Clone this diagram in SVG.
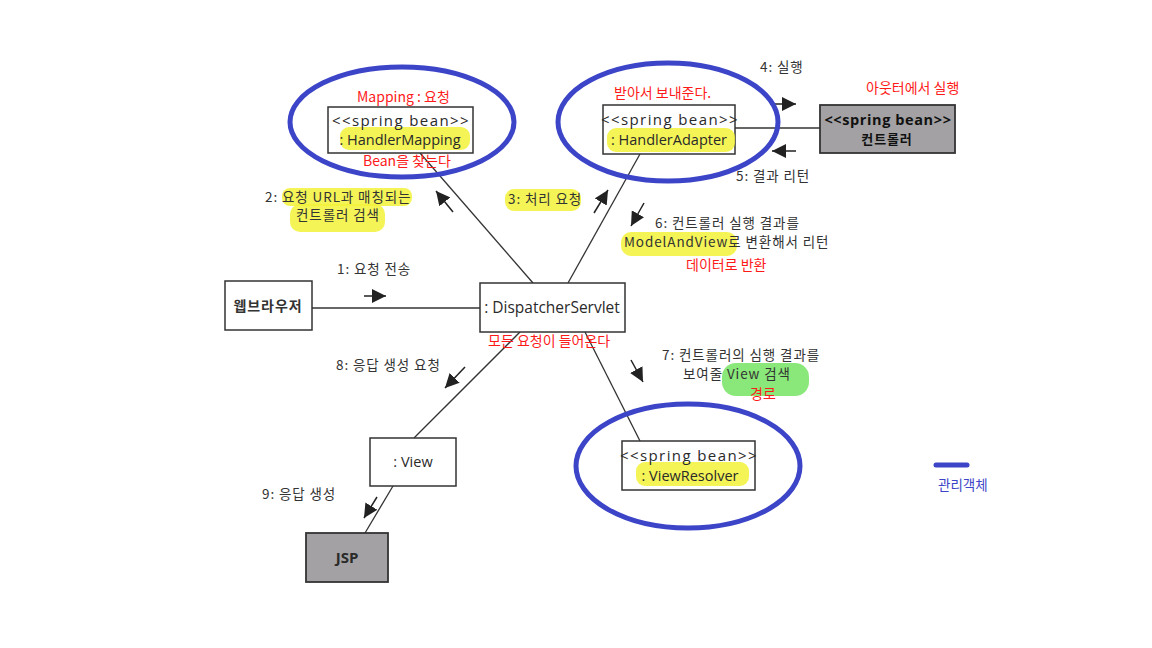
<svg xmlns="http://www.w3.org/2000/svg" width="1152" height="648" viewBox="0 0 1152 648">
<style>
.box{fill:#fff;stroke:#333;stroke-width:1.5}
.gbox{fill:#a3a1a3;stroke:#333;stroke-width:1.8}
.t{font-family:"Open Sans","Noto Sans","Noto Sans CJK KR",sans-serif;fill:#2a2a2a}
.sb{font-family:"Open Sans","Noto Sans",sans-serif;fill:#2a2a2a;font-size:15px;letter-spacing:1.4px}
.k{font-family:"Noto Sans CJK KR",sans-serif;fill:#333;font-size:13.5px;letter-spacing:0.9px}
.red{font-family:"Noto Sans CJK KR",sans-serif;fill:#ff1a1a;font-size:14px}
.ell{fill:none;stroke:#3c44c8;stroke-width:5}
.conn{stroke:#333;stroke-width:1.3;fill:none}
.arr{stroke:#222;stroke-width:1.5;fill:none;marker-end:url(#ah)}
.hl{fill:#f2f23a;opacity:0.85}
</style>
<defs>
<marker id="ah" viewBox="0 0 10 10" refX="10" refY="5" markerWidth="14" markerHeight="14" markerUnits="userSpaceOnUse" orient="auto">
<path d="M0,0 L10,5 L0,10 z" fill="#222"/>
</marker>
</defs>
<rect width="1152" height="648" fill="#fff"/>

<g id="highlights">
<rect class="hl" x="282" y="188" width="130" height="18" rx="8"/>
<rect class="hl" x="290" y="204" width="95" height="28" rx="10"/>
<rect class="hl" x="505" y="189" width="76" height="22" rx="9"/>
<rect class="hl" x="621" y="232" width="116" height="24" rx="10"/>
<rect x="722" y="363" width="87" height="33" rx="14" fill="#7ce66a" opacity="0.9"/>
</g>

<g id="connectors">
<line class="conn" x1="312" y1="308" x2="480" y2="308"/>
<line class="conn" x1="533" y1="283" x2="420" y2="153"/>
<line class="conn" x1="568" y1="283" x2="640" y2="154"/>
<line class="conn" x1="735" y1="128" x2="820" y2="128"/>
<line class="conn" x1="520" y1="332" x2="414" y2="438"/>
<line class="conn" x1="585" y1="332" x2="640" y2="441"/>
<line class="conn" x1="393" y1="486" x2="365" y2="533"/>
<line class="arr" x1="364" y1="296" x2="386" y2="296"/>
<line class="arr" x1="453" y1="212" x2="436" y2="191"/>
<line class="arr" x1="594" y1="213" x2="608" y2="190"/>
<line class="arr" x1="644" y1="203" x2="631" y2="226"/>
<line class="arr" x1="770" y1="104" x2="796" y2="104"/>
<line class="arr" x1="796" y1="151" x2="772" y2="151"/>
<line class="arr" x1="465" y1="367" x2="445" y2="388"/>
<line class="arr" x1="631" y1="360" x2="643" y2="382"/>
<line class="arr" x1="377" y1="497" x2="364" y2="518"/>
</g>

<g id="handlerMapping">
<rect class="box" x="328" y="107" width="145" height="46"/>
<rect class="hl" x="340" y="127" width="130" height="23" rx="9"/>
<text class="sb" x="401" y="126" text-anchor="middle">&lt;&lt;spring bean&gt;&gt;</text>
<text class="t" x="400" y="145" font-size="14.5" text-anchor="middle">: HandlerMapping</text>
</g>

<g id="handlerAdapter">
<rect class="box" x="603" y="105" width="132" height="49"/>
<rect class="hl" x="607" y="128" width="128" height="24" rx="9"/>
<text class="sb" x="670" y="125" text-anchor="middle">&lt;&lt;spring bean&gt;&gt;</text>
<text class="t" x="669" y="145" font-size="14.5" text-anchor="middle">: HandlerAdapter</text>
</g>

<g id="controller">
<rect class="gbox" x="820" y="105" width="135" height="48"/>
<text class="sb" x="888" y="125" text-anchor="middle" style="letter-spacing:0.6px;fill:#111;font-weight:bold;font-size:14.5px">&lt;&lt;spring bean&gt;&gt;</text>
<text class="k" x="887" y="144" text-anchor="middle" style="fill:#111;font-size:13px;font-weight:bold">컨트롤러</text>
</g>

<g id="browser">
<rect class="box" x="225" y="281" width="87" height="49"/>
<text class="k" x="268" y="311" text-anchor="middle" style="font-weight:bold;font-size:14px">웹브라우저</text>
</g>

<g id="dispatcherServlet">
<rect class="box" x="480" y="283" width="145" height="49"/>
<text class="t" x="552" y="313" font-size="15.5" text-anchor="middle">: DispatcherServlet</text>
</g>

<g id="view">
<rect class="box" x="370" y="438" width="86" height="48"/>
<text class="t" x="413" y="467" font-size="14.5" text-anchor="middle">: View</text>
</g>

<g id="jsp">
<rect class="gbox" x="306" y="533" width="82" height="49"/>
<text class="t" x="347" y="563" font-size="15" text-anchor="middle" font-weight="bold" fill="#111">JSP</text>
</g>

<g id="viewResolver">
<rect class="box" x="622" y="441" width="133" height="49"/>
<rect class="hl" x="636" y="462" width="113" height="24" rx="9"/>
<text class="sb" x="689" y="461" text-anchor="middle">&lt;&lt;spring bean&gt;&gt;</text>
<text class="t" x="690" y="481" font-size="14.5" text-anchor="middle">: ViewResolver</text>
</g>

<g id="ellipses">
<ellipse class="ell" cx="402" cy="122" rx="112" ry="55"/>
<ellipse class="ell" cx="668" cy="122" rx="110" ry="59"/>
<ellipse class="ell" cx="688" cy="466" rx="112" ry="62"/>
</g>

<g id="labels">
<text class="k" x="760" y="72">4: 실행</text>
<text class="k" x="736" y="181">5: 결과 리턴</text>
<text class="k" x="265" y="202">2: 요청 URL과 매칭되는</text>
<text class="k" x="296" y="220">컨트롤러 검색</text>
<text class="k" x="508" y="204">3: 처리 요청</text>
<text class="k" x="655" y="228">6: 컨트롤러 실행 결과를</text>
<text class="k" x="624" y="247">ModelAndView로 변환해서 리턴</text>
<text class="k" x="337" y="274">1: 요청 전송</text>
<text class="k" x="336" y="370">8: 응답 생성 요청</text>
<text class="k" x="662" y="360">7: 컨트롤러의 심행 결과를</text>
<text class="k" x="683" y="379">보여줄 View 검색</text>
<text class="k" x="262" y="499">9: 응답 생성</text>
</g>

<g id="notes">
<text class="red" x="357" y="102">Mapping : 요청</text>
<text class="red" x="363" y="166">Bean을 찾는다</text>
<text class="red" x="614" y="98">받아서 보내준다.</text>
<text class="red" x="866" y="93">아웃터에서 실행</text>
<text class="red" x="686" y="270">데이터로 반환</text>
<text class="red" x="488" y="346">모든 요청이 들어온다</text>
<text class="red" x="750" y="399">경로</text>
</g>

<g id="legend">
<line x1="936" y1="465" x2="967" y2="465" stroke="#3c44c8" stroke-width="5" stroke-linecap="round"/>
<text x="938" y="490" font-family="Noto Sans CJK KR, sans-serif" font-size="13.5" fill="#3c44c8">관리객체</text>
</g>
</svg>
